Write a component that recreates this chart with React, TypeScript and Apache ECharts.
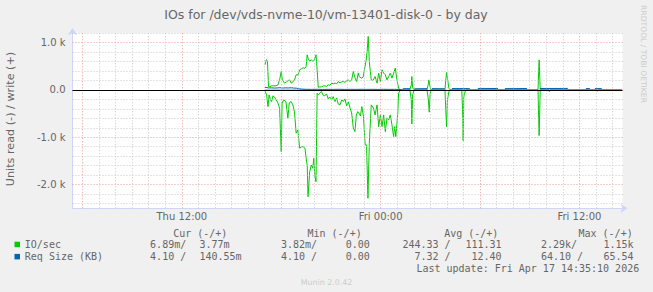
import React, { useEffect, useRef } from 'react';
import * as echarts from 'echarts';

// Time in minutes relative to Fri 00:00 (Apr 17 2026)
const writeTimes = [-419,-414,-410,-406,-401,-394,-386,-379,-372,-366,-360,-356,-348,-341,-336,-330,-324,-318,-312,-306,-299,-293,-287,-281,-274,-270,-266,-262,-257,-251,-245,-240,-234,-230,-226,-220,-214,-207,-202,-196,-190,-184,-177,-172,-165,-159,-154,-147,-141,-135,-129,-123,-117,-111,-105,-99,-93,-87,-81,-78,-71,-68,-63,-59,-53,-49,-45,-41,-34,-28,-20,-13,-7,-1,5,11,17,23,29,35,41,47,53,59,65,70,76,106,111,113,116,121,168,172,175,178,182,233,236,239,242,245,247,251,570,574,578,609,611,615,783,785,789,874];
const writeIO = [528,634,613,70,63,85,85,85,106,211,387,211,142,169,190,211,142,169,211,317,317,423,444,465,455,486,740,655,602,634,598,634,740,423,53,63,63,85,85,74,106,95,142,127,142,127,175,148,169,175,159,190,211,175,211,387,254,175,359,281,254,247,275,423,598,803,1127,598,211,201,281,142,353,175,423,353,317,211,281,353,247,353,459,211,32,10,0,0,106,281,42,0,0,106,211,85,0,0,211,364,254,127,42,0,0,634,0,0,40,0,0,30,0,0];

const readTimes = [-419,-418,-413,-408,-404,-399,-395,-390,-385,-378,-372,-366,-360,-357,-351,-343,-336,-331,-324,-318,-312,-306,-300,-293,-287,-281,-274,-269,-266,-263,-257,-251,-246,-242,-238,-234,-230,-225,-220,-214,-209,-202,-196,-190,-184,-177,-172,-165,-159,-154,-147,-141,-135,-129,-123,-117,-111,-105,-99,-93,-88,-83,-79,-73,-68,-62,-56,-51,-46,-41,-34,-26,-20,-13,-7,-1,5,11,17,23,29,35,41,47,51,55,62,65,70,76,106,111,113,116,121,168,173,176,179,182,233,236,239,242,247,251,294,298,299,301,303,309,570,574,578,609,611,615,783,785,789,874];
const readIO = [0,-36,-106,-353,-106,-211,-247,-127,-148,-211,-275,-387,-1304,-281,-211,-247,-598,-275,-247,-317,-465,-915,-846,-1232,-1205,-1199,-1232,-1480,-1586,-2256,-1727,-1586,-1655,-1444,-1833,-1939,-70,-106,-63,-36,-106,-127,-85,-190,-148,-211,-142,-247,-169,-296,-317,-211,-247,-190,-338,-254,-381,-486,-803,-882,-529,-459,-486,-550,-353,-564,-1163,-1163,-2289,-1127,-317,-381,-529,-317,-776,-529,-776,-529,-882,-592,-634,-529,-740,-987,-776,-987,-493,-70,-21,0,0,-211,-719,-106,0,0,-211,-471,-106,0,0,-423,-776,-211,-42,0,0,-634,-1072,-169,-85,0,0,-966,0,0,-40,0,0,-30,0,0];

const reqWriteTimes = [-419,-412,-405,-395,-385,-375,-365,-355,-345,-335,-325,-315,-305,-295,-285,-270,-250,-230,-210,-190,-170,-150,-130,-110,-90,-70,-50,-30,-10,10,30,50,70,76,78,80,106,114,121,168,177,186,233,245,258,323,337,352,425,437,450,530,553,577,678,710,743,758,767,776,801];
const reqWriteKB = [55,48,40,42,38,40,45,38,42,40,44,38,35,22,16,12,10,12,9,11,10,12,9,11,10,12,10,11,9,12,10,11,9,10,null,24,26,null,22,26,null,26,24,null,28,26,null,30,28,null,26,28,null,28,30,null,26,28,null,28,26];

const reqReadTimes = [-419,-350,-300,-200,-100,0,76];
const reqReadKB = [-8,-7,-7,-6,-7,-6,-5];

const xLabelValues = [-720, 0, 720];
const xLabelTexts = ['Thu 12:00', 'Fri 00:00', 'Fri 12:00'];
const yLabelValues = [1000, 0, -1000, -2000];
const yLabelTexts = ['1.0 k', '0.0', '-1.0 k', '-2.0 k'];

const titleText = 'IOs for /dev/vds-nvme-10/vm-13401-disk-0 - by day';
const yAxisTitle = 'Units read (-) / write (+)';

const legendNames = ['IO/sec', 'Req Size (KB)'];
const legendColors = ['#00CC00', '#0066B3'];
const legendHeaders = ['Cur (-/+)', 'Min (-/+)', 'Avg (-/+)', 'Max (-/+)'];
const curNeg = ['6.89m/', '4.10 /'];
const curPos = ['3.77m', '140.55m'];
const minNeg = ['3.82m/', '4.10 /'];
const minPos = ['0.00', '0.00'];
const avgNeg = ['244.33 /', '7.32 /'];
const avgPos = ['111.31', '12.40'];
const maxNeg = ['2.29k/', '64.10 /'];
const maxPos = ['1.15k', '65.54'];
const lastUpdate = 'Last update: Fri Apr 17 14:35:10 2026';
const muninVersion = 'Munin 2.0.42';
const rrdCredit = 'RRDTOOL / TOBI OETIKER';

const zip = (t: number[], v: (number | null)[]) => t.map((x, i) => [x, v[i]]);

const GRAY = '#c8c8c8';
const RED = '#f19a9a';
const AXIS = '#CFD6F8';
const FONT = '#666666';
const MONO = "'DejaVu Sans Mono', monospace";
const SANS = "'DejaVu Sans', sans-serif";

const X_MIN = -1116;
const X_MAX = 876;
const Y_MIN = -2500;
const Y_MAX = 1200;

function mono(text: string, x: number, y: number, align: string = 'left') {
  return {
    type: 'text', x, y, silent: true,
    style: { text, fontSize: 10, fontFamily: MONO, fill: FONT, align, verticalAlign: 'middle' },
  };
}

export default function App() {
  const ref = useRef<HTMLDivElement>(null);
  useEffect(() => {
    document.body.style.margin = '0';
    const chart = echarts.init(ref.current!, null, { renderer: 'svg' });

    // grid line positions (hourly / every 200 units), major ones red
    const gridLines: any[] = [];
    for (let m = -1080; m <= X_MAX; m += 60) {
      gridLines.push({
        xAxis: m,
        lineStyle: { color: m % 360 === 0 ? RED : GRAY, width: 1, type: [1, 2] },
      });
    }
    for (let v = -2400; v <= Y_MAX; v += 200) {
      gridLines.push({
        yAxis: v,
        lineStyle: { color: v % 1000 === 0 ? RED : GRAY, width: 1, type: [1, 2] },
      });
    }

    const rowsY = [244.5, 256.7];
    const graphic: any[] = [
      {
        type: 'text', x: 326, y: 14, silent: true,
        style: { text: titleText, fontSize: 12.5, fontFamily: SANS, fill: FONT, align: 'center', verticalAlign: 'middle' },
      },
      {
        type: 'text', x: 10.5, y: 119, rotation: Math.PI / 2, silent: true,
        style: { text: yAxisTitle, fontSize: 11.2, fontFamily: SANS, fill: FONT, align: 'center', verticalAlign: 'middle' },
      },
      {
        type: 'text', x: 643, y: 54, rotation: -Math.PI / 2, silent: true,
        style: { text: rrdCredit, fontSize: 7.6, fontFamily: SANS, fill: '#cccccc', align: 'center', verticalAlign: 'middle' },
      },
      {
        type: 'text', x: 326.5, y: 282, silent: true,
        style: { text: muninVersion, fontSize: 7.9, fontFamily: SANS, fill: '#cccccc', align: 'center', verticalAlign: 'middle' },
      },
      mono(legendHeaders[0], 173.2, 233),
      mono(legendHeaders[1], 307.5, 233),
      mono(legendHeaders[2], 444.2, 233),
      mono(legendHeaders[3], 578.5, 233),
      mono(lastUpdate, 639.2, 268, 'right'),
    ];
    legendNames.forEach((name, i) => {
      const y = rowsY[i];
      graphic.push({
        type: 'rect', silent: true,
        shape: { x: 14.5, y: y - 2.8, width: 5.5, height: 5.5 },
        style: { fill: legendColors[i] },
      });
      graphic.push(mono(name, 24.8, y));
      graphic.push(mono(curNeg[i], 150.1, y));
      graphic.push(mono(curPos[i], 199.5, y));
      graphic.push(mono(minNeg[i], 281, y));
      graphic.push(mono(minPos[i], 369.8, y, 'right'));
      graphic.push(mono(avgNeg[i], 450.6, y, 'right'));
      graphic.push(mono(avgPos[i], 501.6, y, 'right'));
      graphic.push(mono(maxNeg[i], 541, y));
      graphic.push(mono(maxPos[i], 603.4, y));
    });

    const lineSeries = (data: any[], color: string, z: number) => ({
      type: 'line', data, showSymbol: false, symbol: 'none', connectNulls: false,
      lineStyle: { color, width: 1 }, itemStyle: { color }, z, silent: true,
    });

    chart.setOption({
      animation: false,
      backgroundColor: '#F0F0F0',
      grid: {
        left: 72.5, top: 33, width: 550, height: 175.3,
        show: true, backgroundColor: '#FFFFFF', borderWidth: 0, containLabel: false,
      },
      xAxis: {
        type: 'value', min: X_MIN, max: X_MAX, interval: 12,
        axisLine: {
          show: true, onZero: false, lineStyle: { color: AXIS, width: 1 },
          symbol: ['none', 'arrow'], symbolSize: [7, 7], symbolOffset: [0, 5],
        },
        axisTick: { show: false },
        axisLabel: {
          show: true, color: FONT, fontSize: 10, fontFamily: SANS, margin: 3.5,
          formatter: (v: number) => {
            const k = xLabelValues.findIndex((x) => Math.abs(x - v) < 1e-6);
            return k >= 0 ? xLabelTexts[k] : '';
          },
        },
        splitLine: { show: false },
      },
      yAxis: {
        type: 'value', min: Y_MIN, max: Y_MAX, interval: 100,
        axisLine: {
          show: true, onZero: false, lineStyle: { color: AXIS, width: 1 },
          symbol: ['none', 'arrow'], symbolSize: [7, 7], symbolOffset: [0, 5],
        },
        axisTick: { show: false },
        axisLabel: {
          show: true, color: FONT, fontSize: 10, fontFamily: SANS, margin: 7,
          formatter: (v: number) => {
            const k = yLabelValues.findIndex((x) => Math.abs(x - v) < 1e-6);
            return k >= 0 ? yLabelTexts[k] : '';
          },
        },
        splitLine: { show: false },
      },
      series: [
        {
          type: 'line', data: [], z: 1, silent: true,
          markLine: {
            silent: true, symbol: 'none', animation: false,
            label: { show: false },
            emphasis: { disabled: true },
            data: gridLines,
          },
        },
        lineSeries(zip(readTimes, readIO), '#00CC00', 2),
        lineSeries(zip(writeTimes, writeIO), '#00CC00', 2),
        lineSeries(zip(reqReadTimes, reqReadKB), '#0066B3', 3),
        lineSeries(zip(reqWriteTimes, reqWriteKB), '#0066B3', 3),
        {
          type: 'line', data: [], z: 4, silent: true,
          markLine: {
            silent: true, symbol: 'none', animation: false,
            label: { show: false },
            lineStyle: { color: '#000000', width: 1, type: 'solid' },
            data: [{ yAxis: 0 }],
          },
        },
      ],
      graphic,
    });
    return () => chart.dispose();
  }, []);
  return <div ref={ref} style={{ width: 653, height: 292 }} />;
}
